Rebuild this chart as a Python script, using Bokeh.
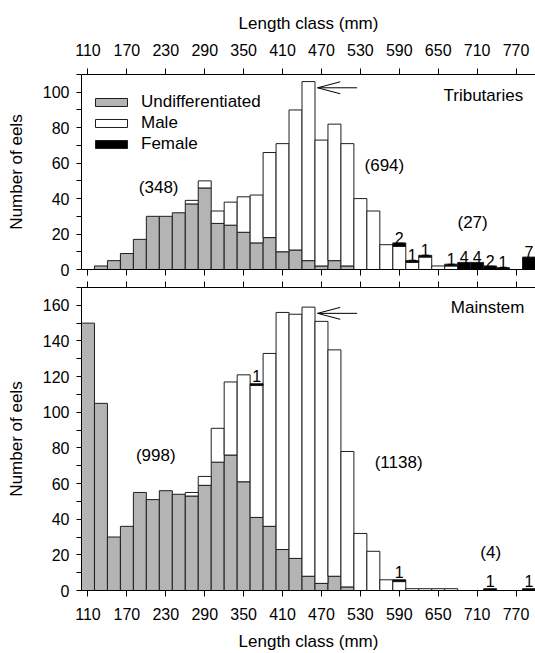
import numpy as np
from bokeh.plotting import figure
from bokeh.models import (ColumnDataSource, LinearAxis, FixedTicker, Range1d,
                          Label, Legend, LegendItem)
from bokeh.layouts import column
from bokeh.embed import file_html
from bokeh.resources import INLINE

# ---------------- data ----------------
length_class = [110, 130, 150, 170, 190, 210, 230, 250, 270, 290, 310, 330, 350,
                370, 390, 410, 430, 450, 470, 490, 510, 530, 550, 570, 590, 610,
                630, 650, 670, 690, 710, 730, 750, 770, 790]

trib_undiff = [0, 2, 5, 9, 17, 30, 30, 32, 37, 46, 26, 25, 21, 15, 18, 10, 11, 5,
               2, 5, 2, 0, 0, 0, 0, 0, 0, 0, 0, 0, 0, 0, 0, 0, 0]
trib_male = [0, 0, 0, 0, 0, 0, 0, 0, 2, 4, 7, 13, 20, 27, 48, 61, 79, 101, 71,
             77, 69, 40, 33, 14, 13, 4, 7, 2, 2, 0, 0, 0, 0, 0, 0]
trib_female = [0, 0, 0, 0, 0, 0, 0, 0, 0, 0, 0, 0, 0, 0, 0, 0, 0, 0, 0, 0, 0, 0,
               0, 0, 2, 1, 1, 0, 1, 4, 4, 2, 1, 0, 7]

main_undiff = [150, 105, 30, 36, 55, 51, 56, 54, 53, 59, 72, 76, 61, 41, 36, 23,
               18, 8, 4, 8, 2, 0, 0, 0, 0, 0, 0, 0, 0, 0, 0, 0, 0, 0, 0]
main_male = [0, 0, 0, 0, 0, 0, 0, 0, 2, 5, 19, 41, 60, 74, 97, 133, 137, 151, 147,
             127, 76, 32, 22, 6, 5, 1, 1, 1, 1, 0, 0, 0, 0, 0, 0]
main_female = [0, 0, 0, 0, 0, 0, 0, 0, 0, 0, 0, 0, 0, 1, 0, 0, 0, 0, 0, 0, 0, 0,
               0, 0, 1, 0, 0, 0, 0, 0, 0, 1, 0, 0, 1]

x_tick_labels = [110, 170, 230, 290, 350, 410, 470, 530, 590, 650, 710, 770]
trib_y_ticks = [0, 20, 40, 60, 80, 100]
trib_y_minor = [10, 30, 50, 70, 90, 110]
main_y_ticks = [0, 20, 40, 60, 80, 100, 120, 140, 160]
main_y_minor = [10, 30, 50, 70, 90, 110, 130, 150, 170]

trib_totals = {"undiff": "(348)", "male": "(694)", "female": "(27)"}
main_totals = {"undiff": "(998)", "male": "(1138)", "female": "(4)"}

# ---------------- style ----------------
FONT = "Liberation Sans"
GRAY = "#b4b4b4"
EDGE = "#1e1e1e"
BIN_W = 20
W = 535

x_range = Range1d(100, 800)


def make_fig(height, ymax, top_b, bottom_b):
    p = figure(width=W, height=height, x_range=x_range, y_range=Range1d(0, ymax),
               output_backend="svg", toolbar_location=None,
               x_axis_location=None, y_axis_location=None,
               min_border_left=81, min_border_right=0,
               min_border_top=top_b, min_border_bottom=bottom_b)
    p.grid.visible = False
    p.outline_line_color = None
    p.background_fill_color = "white"
    p.border_fill_color = "white"
    return p


def style_axis(ax, title=None):
    ax.axis_line_color = "black"
    ax.major_tick_line_color = "black"
    ax.minor_tick_line_color = "black"
    ax.major_tick_in = 0
    ax.minor_tick_in = 0
    ax.major_label_text_font = FONT
    ax.major_label_text_color = "black"
    ax.major_label_text_font_size = "16px"
    ax.axis_label_text_font = FONT
    ax.axis_label_text_font_style = "normal"
    ax.axis_label_text_font_size = "17px"
    ax.axis_label_text_color = "black"
    if title:
        ax.axis_label = title


def x_axis(labels, title=None, label_standoff=8, title_standoff=10):
    if labels:
        ax = LinearAxis(ticker=FixedTicker(ticks=x_tick_labels, minor_ticks=[]))
    else:
        # ticks only: drawn as minor ticks so that no label is produced
        ax = LinearAxis(ticker=FixedTicker(ticks=[], minor_ticks=x_tick_labels))
    style_axis(ax, title)
    ax.major_tick_out = 6
    ax.minor_tick_out = 6
    ax.major_label_standoff = label_standoff
    ax.axis_label_standoff = title_standoff
    return ax


def y_axis(major, minor):
    ax = LinearAxis(ticker=FixedTicker(ticks=major, minor_ticks=minor))
    style_axis(ax, "Number of eels")
    ax.major_tick_out = 5
    ax.minor_tick_out = 5
    ax.major_label_standoff = 7
    ax.axis_label_standoff = 14
    return ax


def draw_bars(p, undiff, male, female, label_pad):
    x = np.array(length_class, dtype=float)
    u = np.array(undiff, dtype=float)
    m = np.array(male, dtype=float)
    f = np.array(female, dtype=float)
    rend = {}
    for key, vals, bottom, color in (("undiff", u, np.zeros_like(u), GRAY),
                                     ("male", m, u, "white"),
                                     ("female", f, u + m, "black")):
        mask = vals > 0
        src = ColumnDataSource(dict(x=x[mask], bottom=bottom[mask],
                                    top=(bottom + vals)[mask]))
        rend[key] = p.vbar(x="x", width=BIN_W, bottom="bottom", top="top",
                           source=src, fill_color=color, line_color=EDGE,
                           line_width=1)
    # female counts written above bars
    mask = f > 0
    lab = ColumnDataSource(dict(x=x[mask], y=(u + m + f)[mask] + label_pad,
                                t=[str(int(v)) for v in f[mask]]))
    p.text(x="x", y="y", text="t", source=lab, text_align="center",
           text_baseline="alphabetic", text_font_size="16px",
           text_font={"value": FONT}, text_color="black")
    tot = u + m + f
    i = int(np.argmax(tot))
    tip_x = x[i] + BIN_W / 2 + 4
    ay = tot[i] - 3.5
    return rend, tip_x, ay


def arrow(p, tip_x, ay, px_per_unit):
    hx = 35
    hy = 6 / px_per_unit
    p.segment(x0=[tip_x, tip_x, tip_x], y0=[ay, ay, ay],
              x1=[tip_x + 61, tip_x + hx, tip_x + hx],
              y1=[ay, ay + hy, ay - hy], line_color="black", line_width=1)


def add_text(p, x, y, text, align="center"):
    p.add_layout(Label(x=x, y=y, text=text, text_align=align,
                       text_baseline="middle", text_font=FONT,
                       text_font_size="17px", text_color="black"))


# ---------------- top panel (Tributaries) ----------------
p1 = make_fig(278, 110, 74, 9)
p1.add_layout(x_axis(True, "Length class (mm)", label_standoff=13,
                     title_standoff=8), "above")
p1.add_layout(x_axis(False), "below")
p1.add_layout(y_axis(trib_y_ticks, trib_y_minor), "left")
r1, tx1, ay1 = draw_bars(p1, trib_undiff, trib_male, trib_female, 3)
arrow(p1, tx1, ay1, 195 / 110)
add_text(p1, 219, 46, trib_totals["undiff"])
add_text(p1, 567, 58.5, trib_totals["male"])
add_text(p1, 703, 26.5, trib_totals["female"])
add_text(p1, 781, 98.3, "Tributaries", align="right")

legend = Legend(items=[LegendItem(label="Undifferentiated", renderers=[r1["undiff"]]),
                       LegendItem(label="Male", renderers=[r1["male"]]),
                       LegendItem(label="Female", renderers=[r1["female"]])],
                location=(10, 115), padding=0, margin=0, spacing=1,
                glyph_width=40, glyph_height=10, label_height=20,
                label_standoff=10, label_text_font=FONT,
                label_text_font_size="17px", label_text_color="black",
                border_line_color=None, background_fill_alpha=0)
p1.add_layout(legend, "center")

# ---------------- bottom panel (Mainstem) ----------------
p2 = make_fig(375, 170, 9, 62)
p2.add_layout(x_axis(False), "above")
p2.add_layout(x_axis(True, "Length class (mm)", label_standoff=11,
                     title_standoff=9), "below")
p2.add_layout(y_axis(main_y_ticks, main_y_minor), "left")
r2, tx2, ay2 = draw_bars(p2, main_undiff, main_male, main_female, 4.2)
arrow(p2, tx2, ay2, 304 / 170)
add_text(p2, 214.5, 76, main_totals["undiff"])
add_text(p2, 589, 71.6, main_totals["male"])
add_text(p2, 731, 21.4, main_totals["female"])
add_text(p2, 783, 159, "Mainstem", align="right")

layout = column(p1, p2, spacing=0)
open("out.html", "w").write(file_html(layout, INLINE))
